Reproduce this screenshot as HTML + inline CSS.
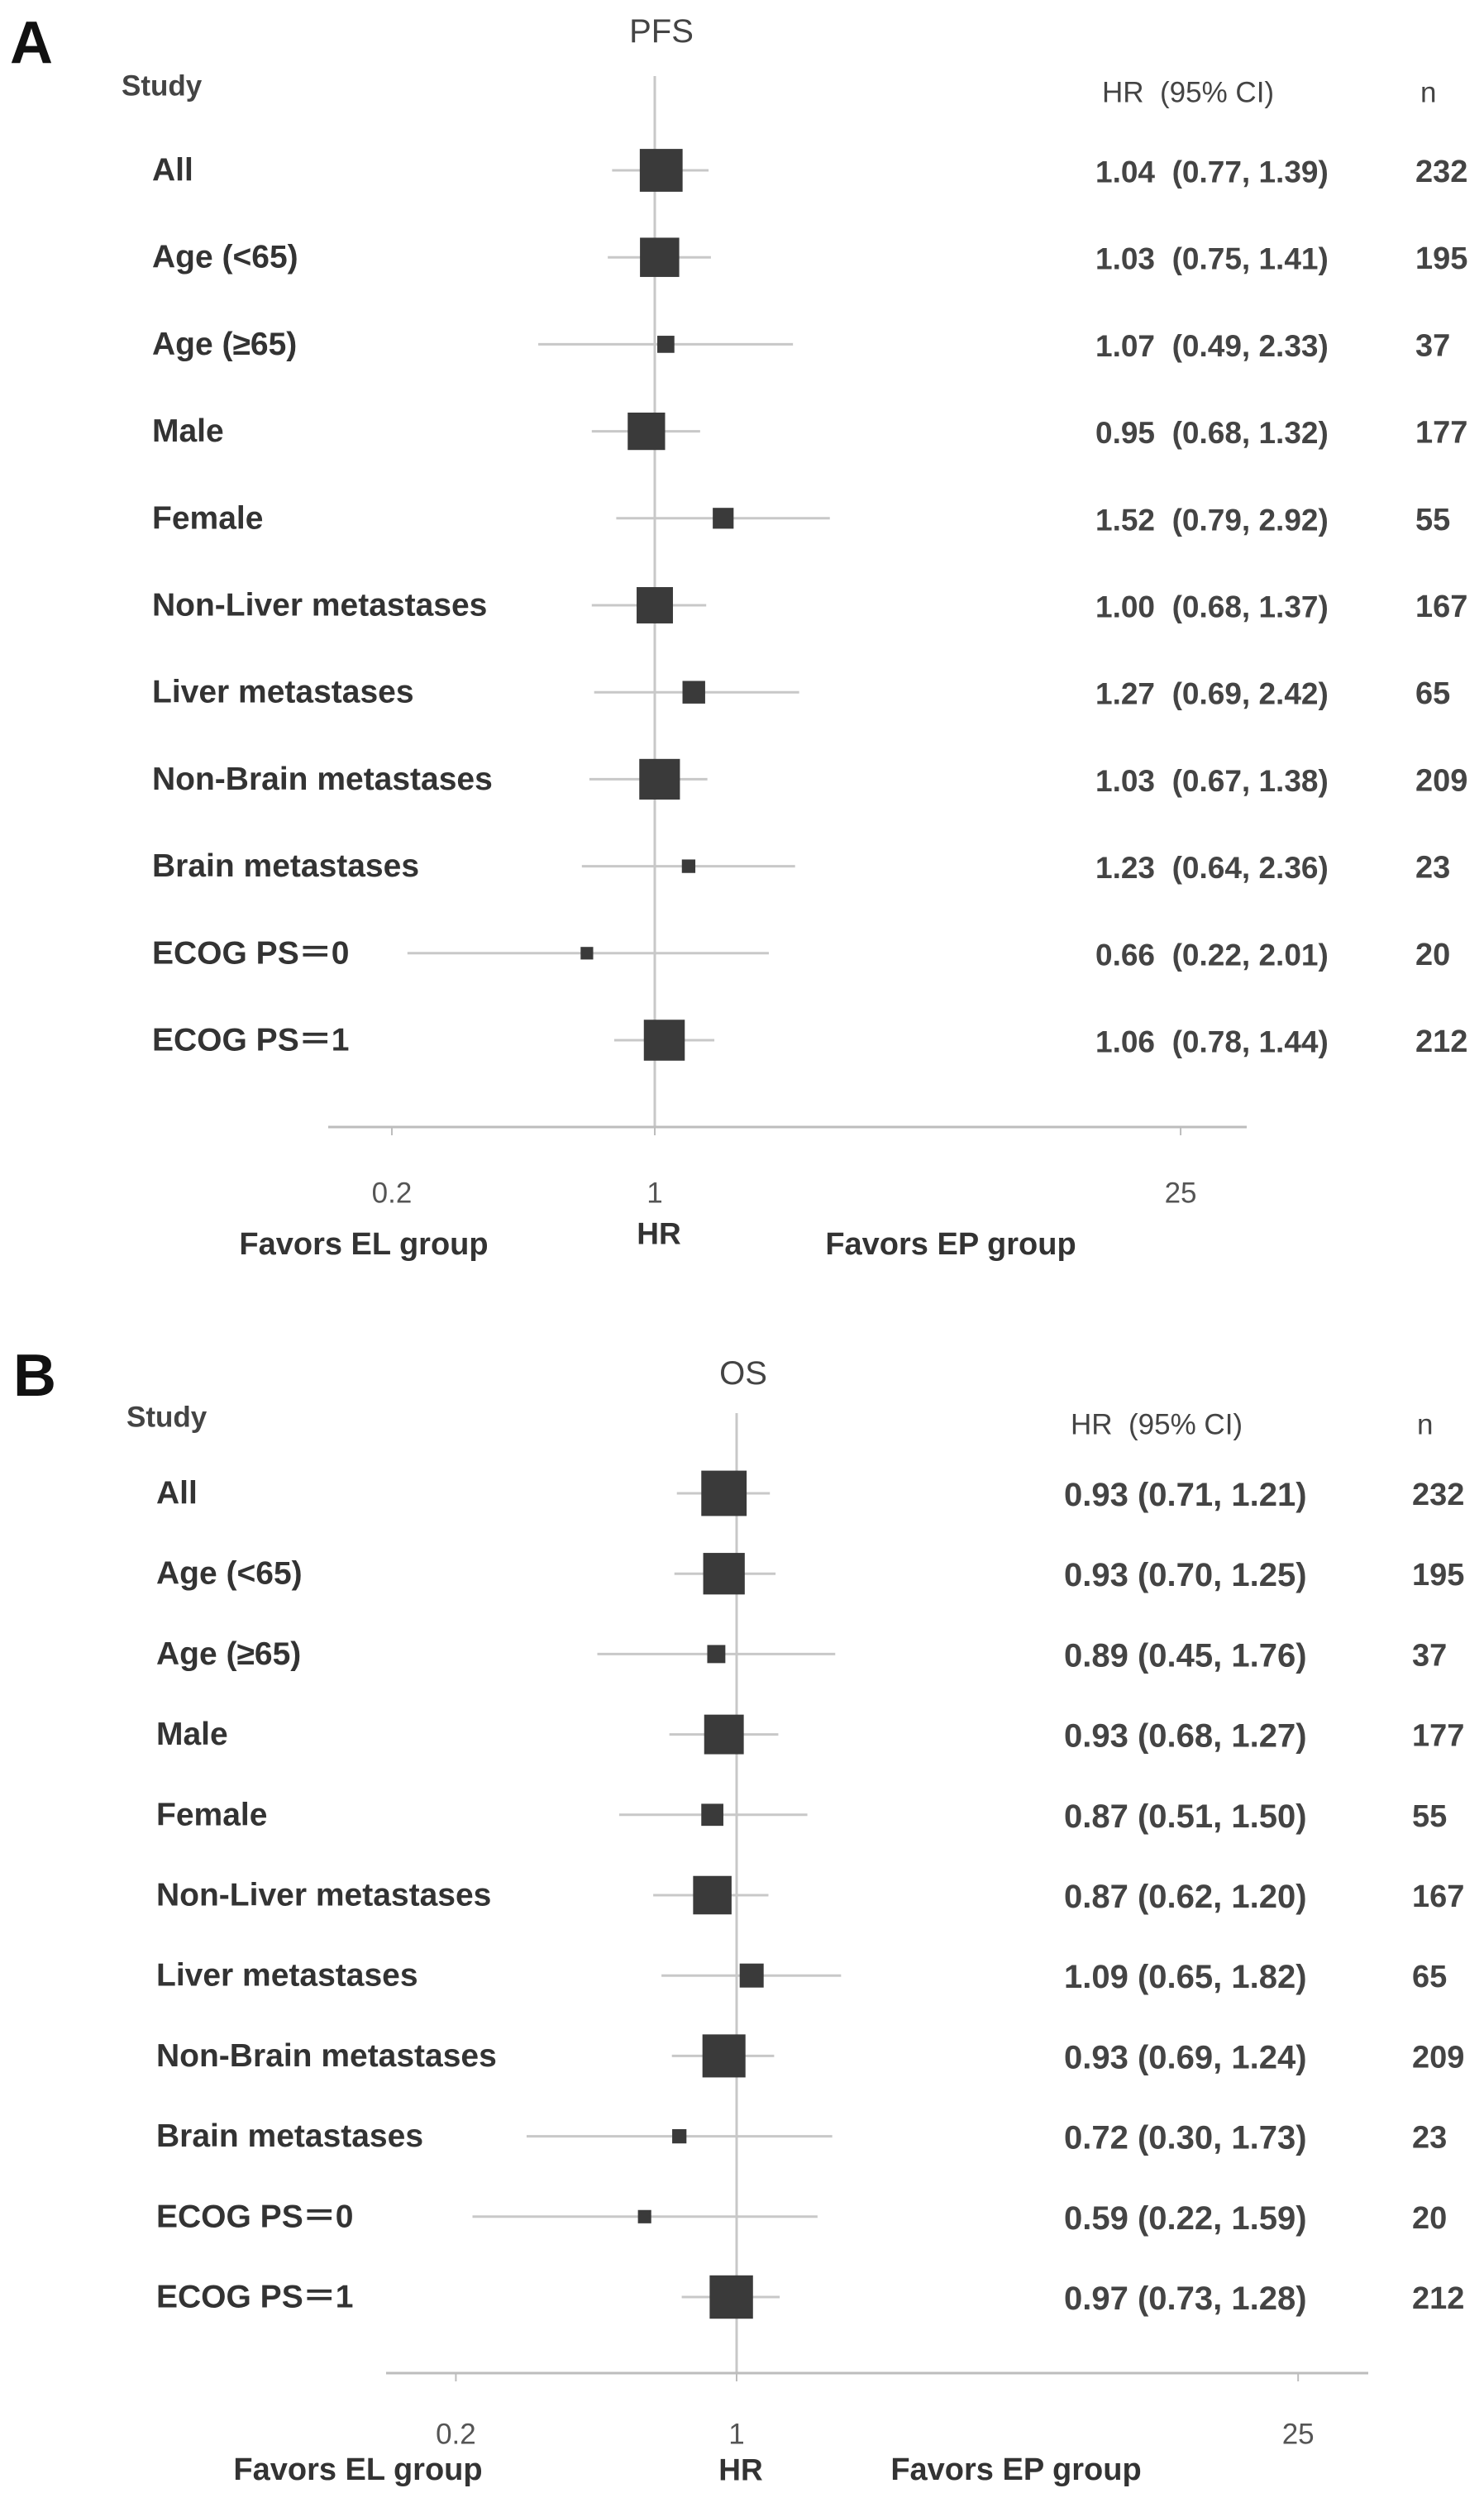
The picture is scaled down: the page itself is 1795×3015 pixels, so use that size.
<!DOCTYPE html>
<html><head><meta charset="utf-8"><style>
html,body{margin:0;padding:0;background:#fff;}
svg{display:block;font-family:"Liberation Sans",sans-serif;}
</style></head><body>
<svg id="chart" width="1795" height="3015" viewBox="0 0 1795 3015"></svg>
<script>
const subgroups = ["All","Age (<65)","Age (\u226565)","Male","Female","Non-Liver metastases","Liver metastases","Non-Brain metastases","Brain metastases","ECOG PS\uFF1D0","ECOG PS\uFF1D1"];
const nValues = [232,195,37,177,55,167,65,209,23,20,212];
const pfsHR = [1.04,1.03,1.07,0.95,1.52,1.00,1.27,1.03,1.23,0.66,1.06];
const pfsLow = [0.77,0.75,0.49,0.68,0.79,0.68,0.69,0.67,0.64,0.22,0.78];
const pfsHigh = [1.39,1.41,2.33,1.32,2.92,1.37,2.42,1.38,2.36,2.01,1.44];
const osHR = [0.93,0.93,0.89,0.93,0.87,0.87,1.09,0.93,0.72,0.59,0.97];
const osLow = [0.71,0.70,0.45,0.68,0.51,0.62,0.65,0.69,0.30,0.22,0.73];
const osHigh = [1.21,1.25,1.76,1.27,1.50,1.20,1.82,1.24,1.73,1.59,1.28];
const tickValues = [0.2,1,25];
const tickLabels = ["0.2","1","25"];

const NS="http://www.w3.org/2000/svg";
const svg=document.getElementById('chart');
function el(tag,attrs,parent){const e=document.createElementNS(NS,tag);for(const k in attrs)e.setAttribute(k,attrs[k]);(parent||svg).appendChild(e);return e;}
function txt(x,y,s,size,weight,fill,anchor,parent){const t=el('text',{x:x,y:y,'font-size':size,'font-weight':weight,fill:fill,'text-anchor':anchor||'start','dominant-baseline':'central'},parent);t.textContent=s;return t;}

function panel(cfg){
  const g=el('g',{});
  
  
  const xs=v=>cfg.x1+cfg.k*Math.log(v);
  const ys=i=>cfg.rows0+i*cfg.rowStep;
  let t=txt(cfg.letterX,cfg.letterY,cfg.letter,72,'bold','#111','start',g);
  
  
  t=txt(xs(1)+8,cfg.titleY,cfg.title,40,'normal','#444','middle',g);
  
  
  t=txt(cfg.studyX,cfg.studyY,'Study',35,'bold','#444','start',g);
  
  
  t=txt(cfg.valX+8,cfg.headY,'HR\u00a0 (95% CI)',35,'normal','#444','start',g);
  
  
  t=txt(cfg.nX+6,cfg.headY,'n',35,'normal','#444','start',g);
  
  
  let l=el('line',{x1:xs(1),x2:xs(1),y1:cfg.vTop,y2:cfg.axisY,stroke:'#c8c8c8','stroke-width':3},g);
  
  
  l=el('line',{x1:cfg.axL,x2:cfg.axR,y1:cfg.axisY,y2:cfg.axisY,stroke:'#bdbdbd','stroke-width':3},g);
  
  
  tickValues.forEach((v,i)=>{
    const tk=el('line',{x1:xs(v),x2:xs(v),y1:cfg.axisY,y2:cfg.axisY+10,stroke:'#bdbdbd','stroke-width':2},g);
    
    
    const tl=txt(xs(v),cfg.tickY,tickLabels[i],35,'normal','#555','middle',g);
    
    
  });
  t=txt(cfg.elX,cfg.botY,'Favors EL group',38,'bold','#333','middle',g);
  
  
  t=txt(xs(1)+5,cfg.hrY,'HR',37,'bold','#333','middle',g);
  
  
  t=txt(cfg.epX,cfg.botY,'Favors EP group',38,'bold','#333','middle',g);
  
  
  subgroups.forEach((s,i)=>{
    const y=ys(i);
    const lb=txt(cfg.labX,y,s,39,'bold','#333','start',g);
    
    
    const ci=el('line',{x1:xs(cfg.lo[i]),x2:xs(cfg.hi[i]),y1:y,y2:y,stroke:'#c8c8c8','stroke-width':3},g);
    
    
    const sz=Math.max(14,cfg.sk*Math.sqrt(nValues[i]));
    const m=el('rect',{x:xs(cfg.hr[i])-sz/2,y:y-sz/2,width:sz,height:sz,fill:'#3a3a3a'},g);
    
    
    const vs=cfg.hr[i].toFixed(2)+cfg.sep+'('+cfg.lo[i].toFixed(2)+', '+cfg.hi[i].toFixed(2)+')';
    const vt=txt(cfg.valX,y+2,vs,cfg.valFont,'bold','#444','start',g);
    
    
    const nt=txt(cfg.nX,y+2,String(nValues[i]),38,'bold','#444','start',g);
    
    
  });
}

panel({name:'pfs-panel',letter:'A',letterX:12,letterY:52,title:'PFS',titleY:38,x1:792,k:197.6,
  rows0:206,rowStep:105.2,studyX:147,studyY:104,headY:112,valX:1325,nX:1712,
  vTop:92,axisY:1363,axL:397,axR:1508,tickY:1443,botY:1505,hrY:1492,elX:440,epX:1150,
  labX:184,hr:pfsHR,lo:pfsLow,hi:pfsHigh,sk:3.4,sep:'\u00a0 ',valFont:37});
panel({name:'os-panel',letter:'B',letterX:16,letterY:1664,title:'OS',titleY:1661,x1:891,k:211,
  rows0:1806,rowStep:97.2,studyX:153,studyY:1714,headY:1723,valX:1287,nX:1708,
  vTop:1709,axisY:2870,axL:467,axR:1655,tickY:2944,botY:2987,hrY:2987,elX:433,epX:1229,
  labX:189,hr:osHR,lo:osLow,hi:osHigh,sk:3.6,sep:' ',valFont:40});
</script>
</body></html>
